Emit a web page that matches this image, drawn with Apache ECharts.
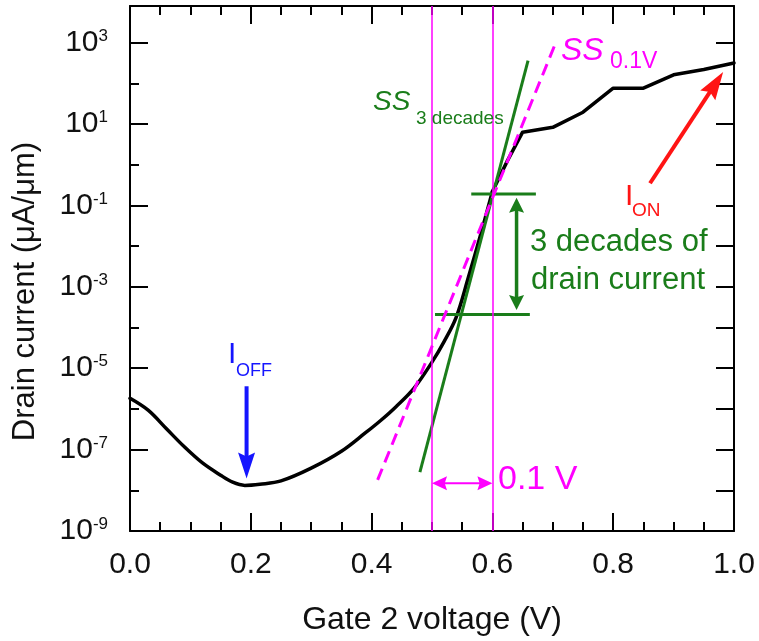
<!DOCTYPE html>
<html><head><meta charset="utf-8">
<script src="https://cdn.jsdelivr.net/npm/echarts@6/dist/echarts.min.js"></script>
<style>html,body{margin:0;padding:0;background:#fff}#c{width:759px;height:641px}</style>
</head><body><div id="c"></div>
<script>
// ---- data (drain current in µA/µm) ----
const gateVoltage = [0, 0.03, 0.06, 0.09, 0.12, 0.15, 0.17, 0.19, 0.215, 0.25, 0.3, 0.35, 0.39, 0.415, 0.44, 0.47, 0.5, 0.52, 0.54, 0.56, 0.58, 0.6, 0.625, 0.65, 0.7, 0.75, 0.8, 0.85, 0.9, 0.95, 1.0];
const drainCurrent = [1.82e-6, 9.3e-7, 3.3e-7, 1.17e-7, 4.7e-8, 2.35e-8, 1.58e-8, 1.32e-8, 1.41e-8, 1.7e-8, 3.5e-8, 9.1e-8, 2.6e-7, 5.2e-7, 1.12e-6, 3.2e-6, 1.41e-5, 4.5e-5, 1.78e-4, 1.66e-3, 1.8e-2, 0.22, 1.26, 6.3, 8.3, 19.5, 76, 76, 162, 219, 316];
const smoothEndIndex = 21; // subthreshold part drawn smooth, on-state part as straight segments
const ss3DecadesX = [0.48, 0.659];
const ss3DecadesY = [2.8e-8, 363];
const ss01VX = [0.41, 0.703];
const ss01VY = [1.8e-8, 851];
const decadeTopX = [0.565, 0.672];
const decadeTopY = [0.19, 0.19];
const decadeBotX = [0.505, 0.662];
const decadeBotY = [2.1e-4, 2.1e-4];
const gateMarks = [0.5, 0.6];
const xTickLabels = ['0.0', '0.2', '0.4', '0.6', '0.8', '1.0'];
const yLabelExponents = [-9, -7, -5, -3, -1, 1, 3];
// arrows
const offArrowX = [0.193, 0.193], offArrowY = [3.6e-6, 1.95e-8];
const onArrowX = [0.861, 0.982], onArrowY = [0.35, 190];
const decArrowX = [0.64, 0.64], decArrowY = [0.155, 2.7e-4];
const voltArrowX = [0.5, 0.6], voltArrowY = [1.5e-8, 1.5e-8];

const FONT = '"Liberation Sans", Arial, Helvetica, sans-serif';
const lg = v => Math.log10(v);
const pairs = (xs, ys) => xs.map((x, i) => [x, lg(ys[i])]);

const GREEN = '#1a7d1a', MAG = '#ff00ff', RED = '#ff1414', BLUE = '#1515ff';

const chart = echarts.init(document.getElementById('c'), null, {renderer: 'canvas'});
const tickStyle = {color: '#000', width: 2};
const yFmt = v => (Number.isInteger(v) && yLabelExponents.indexOf(v) >= 0) ? '{b|10}{s|' + v + '}' : '';
const curve = pairs(gateVoltage, drainCurrent);

const option = {
  animation: false,
  backgroundColor: '#fff',
  grid: {left: 130, top: 6, width: 604, height: 526, containLabel: false},
  xAxis: [
    {type: 'value', min: 0, max: 1, interval: 0.2, position: 'bottom',
     axisLine: {show: true, onZero: false, lineStyle: tickStyle},
     axisTick: {show: true, inside: true, length: 18, lineStyle: tickStyle},
     minorTick: {show: true, splitNumber: 4, length: 9, lineStyle: tickStyle},
     axisLabel: {fontSize: 30, color: '#111', margin: 19, fontFamily: FONT,
       formatter: v => xTickLabels[Math.round(v / 0.2)] || ''},
     splitLine: {show: false}, minorSplitLine: {show: false},
     name: 'Gate 2 voltage (V)', nameLocation: 'middle', nameGap: 73,
     nameTextStyle: {fontSize: 32, color: '#111', fontFamily: FONT}},
    {type: 'value', min: 0, max: 1, interval: 0.2, position: 'top',
     axisLine: {show: true, onZero: false, lineStyle: tickStyle},
     axisTick: {show: true, inside: true, length: 18, lineStyle: tickStyle},
     minorTick: {show: true, splitNumber: 4, length: 9, lineStyle: tickStyle},
     axisLabel: {show: false}, splitLine: {show: false}}
  ],
  yAxis: [
    {type: 'value', min: -9, max: 3.9, interval: 1, position: 'left',
     axisLine: {show: true, onZero: false, lineStyle: tickStyle},
     axisTick: {show: true, inside: true, length: 9, lineStyle: tickStyle},
     axisLabel: {show: true, margin: 22, showMaxLabel: false, formatter: yFmt,
       rich: {b: {fontSize: 30, fontFamily: FONT, color: '#111', lineHeight: 30},
              s: {fontSize: 17, fontFamily: FONT, color: '#111', lineHeight: 17, verticalAlign: 'top'}}},
     splitLine: {show: false},
     name: 'Drain current (\u03bcA/\u03bcm)', nameLocation: 'middle', nameGap: 89,
     nameTextStyle: {fontSize: 31, color: '#111', fontFamily: FONT, padding: [0, 46, 0, 0]}},
    {type: 'value', min: -9, max: 3.9, interval: 2, position: 'left',
     axisLine: {show: false}, axisTick: {show: true, inside: true, length: 18, lineStyle: tickStyle},
     axisLabel: {show: false}, splitLine: {show: false}},
    {type: 'value', min: -9, max: 3.9, interval: 1, position: 'right',
     axisLine: {show: true, onZero: false, lineStyle: tickStyle},
     axisTick: {show: true, inside: true, length: 18, lineStyle: tickStyle},
     axisLabel: {show: false}, splitLine: {show: false}}
  ],
  series: [
    {type: 'line', name: 'gates', data: [], symbol: 'none', silent: true,
     markLine: {silent: true, symbol: ['none', 'none'], label: {show: false},
       lineStyle: {color: MAG, width: 1.5, type: 'solid'},
       data: gateMarks.map(v => ({xAxis: v}))}},
    {type: 'line', name: 'Id', data: curve.slice(0, smoothEndIndex + 1), symbol: 'none',
     smooth: 0.35, lineStyle: {color: '#000', width: 3.5, join: 'round', cap: 'round'}, z: 3},
    {type: 'line', name: 'Id on', data: curve.slice(smoothEndIndex), symbol: 'none',
     smooth: false, lineStyle: {color: '#000', width: 3.5, join: 'round', cap: 'round'}, z: 3},
    {type: 'line', name: 'SS 3 decades', data: pairs(ss3DecadesX, ss3DecadesY), symbol: 'none',
     lineStyle: {color: GREEN, width: 3}, z: 4},
    {type: 'line', name: 'SS 0.1V', data: pairs(ss01VX, ss01VY), symbol: 'none',
     lineStyle: {color: MAG, width: 3, type: [12, 7]}, z: 5},
    {type: 'line', name: 'top', data: pairs(decadeTopX, decadeTopY), symbol: 'none',
     lineStyle: {color: GREEN, width: 3}, z: 4},
    {type: 'line', name: 'bot', data: pairs(decadeBotX, decadeBotY), symbol: 'none',
     lineStyle: {color: GREEN, width: 3}, z: 4}
  ]
};
chart.setOption(option);

const P = (x, v) => chart.convertToPixel({gridIndex: 0}, [x, lg(v)]);
function arrow(xs, ys, color, lw, hl, hw, both) {
  const a = P(xs[0], ys[0]), b = P(xs[1], ys[1]);
  const dx = b[0] - a[0], dy = b[1] - a[1], L = Math.hypot(dx, dy);
  const ux = dx / L, uy = dy / L, nx = -uy, ny = ux;
  const head = (tip, sx, sy) => ({type: 'polygon', z: 20, shape: {points: [
    [tip[0], tip[1]],
    [tip[0] - sx * hl + nx * hw / 2, tip[1] - sy * hl + ny * hw / 2],
    [tip[0] - sx * hl * 0.85, tip[1] - sy * hl * 0.85],
    [tip[0] - sx * hl - nx * hw / 2, tip[1] - sy * hl - ny * hw / 2]]},
    style: {fill: color}});
  const s = both ? [a[0] + ux * hl * 0.8, a[1] + uy * hl * 0.8] : a;
  const e = [b[0] - ux * hl * 0.8, b[1] - uy * hl * 0.8];
  const out = [{type: 'line', z: 20, shape: {x1: s[0], y1: s[1], x2: e[0], y2: e[1]},
    style: {stroke: color, lineWidth: lw}}, head(b, ux, uy)];
  if (both) out.push(head(a, -ux, -uy));
  return out;
}
function txt(x, baseline, str, size, color, italic) {
  return {type: 'text', z: 21, x: x, y: baseline - 0.35 * size,
    style: {text: str, fontSize: size, fontFamily: FONT, fontStyle: italic ? 'italic' : 'normal',
      fill: color, align: 'left', verticalAlign: 'middle'}};
}
const g = [].concat(
  arrow(offArrowX, offArrowY, BLUE, 4, 26, 17, false),
  arrow(onArrowX, onArrowY, RED, 4, 28, 18, false),
  arrow(decArrowX, decArrowY, GREEN, 3.5, 15, 15, true),
  arrow(voltArrowX, voltArrowY, MAG, 2, 15, 14, true),
  [
    txt(228, 365, 'I', 30, BLUE), txt(236, 377, 'OFF', 18, BLUE),
    txt(625, 207, 'I', 30, RED), txt(632, 217, 'ON', 19, RED),
    txt(373, 112, 'SS', 28, GREEN, true), txt(416, 125, '3 decades', 19, GREEN),
    txt(561, 62, 'SS', 32, MAG, true), txt(610, 70, '0.1V', 23, MAG),
    txt(530, 253, '3 decades of', 31, GREEN),
    txt(531, 291, 'drain current', 31, GREEN),
    txt(498, 492, '0.1 V', 34, MAG)
  ]
);
chart.setOption({graphic: g});
</script></body></html>
